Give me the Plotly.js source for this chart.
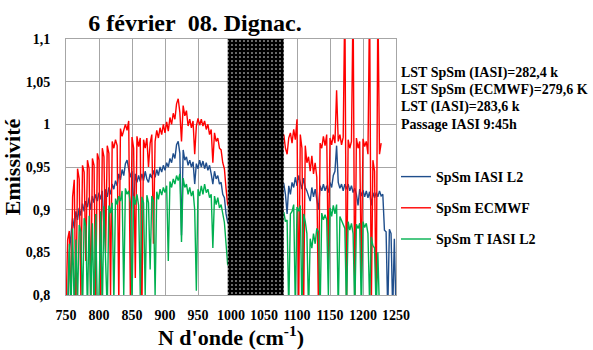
<!DOCTYPE html>
<html>
<head>
<meta charset="utf-8">
<script src="https://cdn.plot.ly/plotly-3.0.1.min.js"></script>
<style>html,body{margin:0;padding:0;background:#fff;}#chart{width:593px;height:350px;}</style>
</head>
<body>
<div id="chart"></div>
<script>
// Wavenumbers (cm-1), segment before and after the masked band
const wnA = [750,752.5,755,757.5,760,762.5,765,767.5,770,772.5,
775,777.5,780,782.5,785,787.5,790,792.5,795,797.5,
800,802.5,805,807.5,810,812.5,815,817.5,820,822.5,
825,827.5,830,832.5,835,837.5,840,842.5,845,847.5,
850,852.5,855,857.5,860,862.5,865,867.5,870,872.5,
875,877.5,880,882.5,885,887.5,890,892.5,895,897.5,
900,902.5,905,907.5,910,912.5,915,917.5,920,922.5,
925,927.5,930,932.5,935,937.5,940,942.5,945,947.5,
950,952.5,955,957.5,960,962.5,965,967.5,970,972.5,
975,977.5,980,982.5,985,987.5,990,992.5,995];
const wnB = [1080,1082.5,1085,1087.5,1090,1092.5,1095,1097.5,1100,1102.5,
1105,1107.5,1110,1112.5,1115,1117.5,1120,1122.5,1125,1127.5,
1130,1132.5,1135,1137.5,1140,1142.5,1145,1147.5,1150,1152.5,
1155,1157.5,1160,1162.5,1165,1167.5,1170,1172.5,1175,1177.5,
1180,1182.5,1185,1187.5,1190,1192.5,1195,1197.5,1200,1202.5,
1205,1207.5,1210,1212.5,1215,1217.5,1220,1222.5,1225,1227.5,
1230,1232.5,1235,1237.5,1240,1242.5,1245,1247.5,1250];

// SpSm IASI L2
const blueA = [0.78,0.78,0.85,0.872,0.89,0.878,0.898,0.888,0.902,0.893,
0.907,0.898,0.91,0.903,0.914,0.90,0.916,0.908,0.918,0.91,
0.92,0.912,0.922,0.88,0.924,0.915,0.926,0.918,0.93,0.924,
0.934,0.928,0.942,0.935,0.947,0.94,0.954,0.958,0.948,0.938,
0.945,0.90,0.942,0.932,0.94,0.933,0.942,0.934,0.945,0.936,
0.932,0.942,0.937,0.946,0.938,0.947,0.94,0.95,0.944,0.952,
0.946,0.955,0.95,0.96,0.955,0.966,0.96,0.976,0.98,0.966,
0.87,0.97,0.958,0.962,0.952,0.958,0.95,0.956,0.93,0.954,
0.948,0.958,0.95,0.957,0.948,0.955,0.946,0.952,0.942,0.93,
0.945,0.936,0.94,0.93,0.932,0.918,0.914,0.895,0.885];
const blueB = [0.93,0.918,0.895,0.928,0.918,0.932,0.926,0.938,0.928,0.94,
0.93,0.924,0.937,0.926,0.922,0.916,0.91,0.926,0.915,0.924,
0.912,0.90,0.928,0.922,0.93,0.922,0.928,0.92,0.932,0.926,
0.94,0.945,0.975,0.932,0.925,0.93,0.922,0.93,0.924,0.93,
0.922,0.928,0.92,0.925,0.918,0.905,0.924,0.916,0.923,0.915,
0.922,0.914,0.921,0.905,0.92,0.914,0.92,0.915,0.922,0.916,
0.918,0.876,0.874,0.78,0.877,0.872,0.78,0.866,0.78];

// SpSm ECMWF
const redA = [0.78,0.865,0.875,0.78,0.915,0.935,0.78,0.948,0.936,0.80,
0.952,0.944,0.84,0.958,0.948,0.78,0.96,0.952,0.79,0.966,
0.958,0.78,0.972,0.962,0.85,0.975,0.966,0.80,0.98,0.972,
0.982,0.975,0.79,0.995,0.986,0.992,1.0,0.993,1.004,0.80,
0.985,0.972,0.82,0.986,0.974,0.984,0.78,0.982,0.972,0.984,
0.95,0.978,0.988,0.86,0.98,0.993,0.984,0.996,0.988,1.0,
0.99,1.003,0.992,1.008,1.0,1.013,1.006,1.024,1.030,1.014,
0.98,1.022,1.01,1.016,0.998,1.006,0.996,1.004,0.965,0.998,
1.007,0.999,1.006,0.998,1.004,0.994,1.0,0.988,0.994,0.955,
0.99,0.98,0.984,0.972,0.97,0.955,0.948,0.925,0.905];
const redB = [0.988,0.972,0.965,0.984,0.99,0.978,0.994,0.982,1.006,0.78,
0.988,0.972,0.78,0.975,0.955,0.962,0.945,0.963,0.942,0.955,
0.938,0.78,0.978,0.972,0.986,0.975,0.988,0.83,0.984,0.976,
0.988,0.978,1.04,0.98,0.988,0.976,0.985,1.15,0.78,0.982,
0.972,0.98,1.15,0.78,0.984,0.972,0.98,0.82,0.983,0.974,
0.98,0.965,1.15,0.78,0.958,0.945,0.78,1.15,0.965,0.978];

// SpSm T IASI L2
const greenA = [0.78,0.78,0.86,0.78,0.878,0.78,0.865,0.79,0.882,0.874,
0.78,0.89,0.88,0.78,0.893,0.79,0.884,0.78,0.895,0.78,
0.80,0.898,0.78,0.904,0.84,0.78,0.905,0.896,0.908,0.79,
0.913,0.906,0.916,0.91,0.922,0.80,0.925,0.918,0.922,0.908,
0.79,0.916,0.906,0.918,0.905,0.80,0.915,0.908,0.80,0.917,
0.908,0.83,0.916,0.91,0.80,0.921,0.912,0.924,0.917,0.926,
0.92,0.928,0.84,0.933,0.926,0.936,0.93,0.94,0.934,0.942,
0.862,0.937,0.926,0.93,0.918,0.926,0.916,0.922,0.90,0.805,
0.924,0.916,0.928,0.918,0.93,0.92,0.924,0.914,0.918,0.855,
0.916,0.906,0.914,0.902,0.906,0.893,0.885,0.86,0.835];
const greenB = [0.897,0.886,0.888,0.78,0.895,0.898,0.906,0.78,0.903,0.898,
0.905,0.78,0.895,0.886,0.872,0.78,0.866,0.855,0.872,0.86,
0.878,0.874,0.78,0.896,0.888,0.894,0.888,0.80,0.902,0.892,
0.905,0.895,0.906,0.78,0.892,0.888,0.882,0.878,0.78,0.886,
0.876,0.884,0.872,0.78,0.883,0.878,0.884,0.78,0.886,0.879,
0.884,0.872,0.79,0.868,0.858,0.855,0.78,0.85,0.78];

const seriesNames = ['SpSm IASI L2', 'SpSm ECMWF', 'SpSm T IASI L2'];
const maskedBand = [995, 1080];
const xRange = [750, 1250];
const yRange = [0.8, 1.1];
const yTickVals = [0.8, 0.85, 0.9, 0.95, 1, 1.05, 1.1];
const yTickText = ['0,8', '0,85', '0,9', '0,95', '1', '1,05', '1,1'];
const infoLines = ['LST SpSm (IASI)=282,4 k', 'LST SpSm (ECMWF)=279,6 K', 'LST (IASI)=283,6 k', 'Passage IASI 9:45h'];

const FONT = 'Liberation Serif, Times New Roman, serif';
const wn = wnA.concat(wnB);

const colors = ['#1F4E8C', '#FF0000', '#00B050'];
const ys = [blueA.concat(blueB), redA.concat(redB), greenA.concat(greenB)];

const traces = ys.map((y, i) => ({
  type: 'scatter', mode: 'lines', name: seriesNames[i],
  x: wn.slice(0, y.length), y: y,
  line: {color: colors[i], width: 1.4},
  legendgroup: 'g' + i
}));

traces.push({
  type: 'scatter', mode: 'lines', showlegend: false, hoverinfo: 'skip',
  x: [maskedBand[0], maskedBand[1], maskedBand[1], maskedBand[0], maskedBand[0]],
  y: [yRange[0], yRange[0], yRange[1], yRange[1], yRange[0]],
  fill: 'toself', fillcolor: '#000000',
  line: {width: 0, color: '#000000'},
  fillpattern: {shape: '.', bgcolor: '#000000', fgcolor: '#ffffff', fgopacity: 1, size: 4, solidity: 0.12, fillmode: 'replace'}
});

const pxX = p => (p - 66) / 330;
const pxY = p => (295 - p) / 256;

const annotations = infoLines.map((t, i) => ({
  text: '<b>' + t + '</b>', xref: 'paper', yref: 'paper', x: pxX(399), y: pxY(73 + 17 * i),
  xanchor: 'left', yanchor: 'middle', showarrow: false,
  font: {family: FONT, size: 14, color: '#000'}
}));

const layout = {
  width: 593, height: 350,
  margin: {l: 66, r: 197, t: 39, b: 55, pad: 0},
  paper_bgcolor: '#ffffff', plot_bgcolor: '#ffffff',
  font: {family: FONT, color: '#000'},
  title: {text: '<b>6 février\u00a0 08. Dignac.</b>', x: 195 / 593, xanchor: 'center', y: 1 - 23 / 350, yanchor: 'middle',
          font: {family: FONT, size: 24, color: '#000'}},
  xaxis: {
    range: xRange, dtick: 50, tick0: 750, showgrid: true, gridcolor: '#a6a6a6', gridwidth: 1,
    zeroline: false, showline: true, mirror: true, linecolor: '#a6a6a6', linewidth: 1,
    ticks: '', ticklabelstandoff: 7,
    tickfont: {family: FONT, size: 14, color: '#000', weight: 'bold'},
    title: {text: "<b>N d'onde (cm<sup>-1</sup>)</b>", font: {family: FONT, size: 22, color: '#000'}, standoff: 11}
  },
  yaxis: {
    range: yRange, tickvals: yTickVals, ticktext: yTickText, showgrid: true, gridcolor: '#a6a6a6', gridwidth: 1,
    zeroline: false, showline: true, mirror: true, linecolor: '#a6a6a6', linewidth: 1,
    ticks: '', ticklabelstandoff: 12,
    tickfont: {family: FONT, size: 14, color: '#000', weight: 'bold'},
    title: {text: '<b>Emissivité</b>', font: {family: FONT, size: 22, color: '#000'}, standoff: 0}
  },
  legend: {
    x: pxX(396), y: pxY(161), xanchor: 'left', yanchor: 'top', bgcolor: 'rgba(0,0,0,0)',
    font: {family: FONT, size: 14, color: '#000', weight: 'bold'}, tracegroupgap: 10
  },
  annotations: annotations,
  showlegend: true
};

Plotly.newPlot('chart', traces, layout, {staticPlot: true, displayModeBar: false});
</script>
</body>
</html>
